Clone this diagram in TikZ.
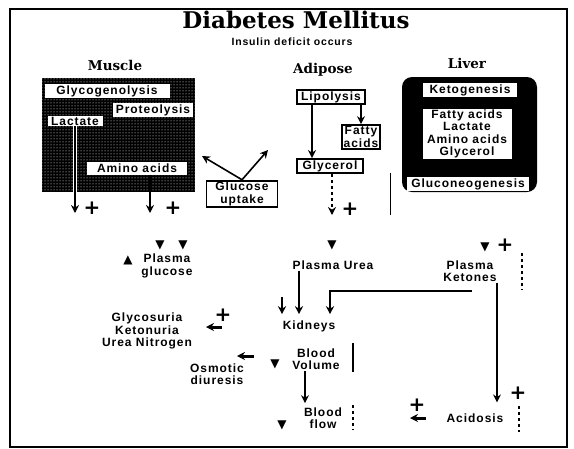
\documentclass[tikz,border=0pt]{standalone}
\usepackage{fontspec}
\newfontfamily\lab[LetterSpace=8]{Liberation Sans}
\newfontfamily\ttl{DejaVu Serif}
\newfontfamily\sym{DejaVu Sans}
\usetikzlibrary{shapes,arrows.meta,positioning,calc,patterns}

\tikzset{
  lbl/.style={font=\lab\bfseries\fontsize{12}{12.5}\selectfont, align=center, inner sep=1pt},
  inbox/.style={lbl, fill=white},
  tbox/.style={lbl, draw, line width=1.8pt, fill=white, inner sep=1.5pt},
  hdr/.style={font=\ttl\bfseries\fontsize{13.5}{13.5}\selectfont},
  plus/.style={font=\sym\bfseries\fontsize{20}{20}\selectfont, inner sep=0pt},
  dn/.style={font=\sym\fontsize{12}{12}\selectfont, inner sep=0pt},
  arr/.style={->, line width=1.6pt},
  blob/.style={->, line width=3pt},
}

\begin{document}
\begin{tikzpicture}[x=1pt, y=-1pt, >={Stealth[length=8pt,width=8pt]}]
\useasboundingbox (0,0) rectangle (574,448);
\draw[line width=1.8pt] (10,9) rectangle (567,447);

% title
\node[font=\ttl\bfseries\fontsize{23}{23}\selectfont] (title) at (296,20) {Diabetes Mellitus};
\node[lbl, font=\lab\bfseries\fontsize{10.5}{10.5}\selectfont] (subtitle) at (292,42) {Insulin deficit occurs};

% muscle
\node[hdr] (muscle) at (115,65) {Muscle};
\node[fill=black, minimum width=153pt, minimum height=114pt, inner sep=0pt] (musclebox) at (118.5,135) {};
\fill[pattern=dots, pattern color=white] (musclebox.south west) rectangle (musclebox.north east);
\node[inbox, minimum width=125pt, minimum height=12pt] (glycogen) at (107,91) {Glycogenolysis};
\node[inbox, minimum width=80pt, minimum height=10pt] (proteo) at (153,110) {Proteolysis};
\node[inbox, minimum width=55pt, minimum height=10pt] (lactate) at (75,121) {Lactate};
\node[inbox, minimum width=100pt, minimum height=13pt] (amino) at (137,168) {Amino acids};
\coordinate (lacend) at (75,213);
\coordinate (aminoend) at (150,213);
\draw[white, line width=3.5pt] (lactate.south) -- (lactate.south |- musclebox.south);
\draw[arr] (lactate.south) -- (lacend);
\draw[arr] (amino.south -| aminoend) -- (aminoend);
\node[plus] (plusa) at (92,208) {+};
\node[plus] (plusb) at (173,208) {+};

% glucose uptake
\node[tbox, minimum width=71pt, minimum height=25pt] (uptake) at (242,194) {Glucose\\uptake};
\coordinate (upl) at (202,156);
\coordinate (upr) at (268,150);
\draw[arr] (uptake.north) -- (upl);
\draw[arr] (uptake.north) -- (upr);

% adipose
\node[hdr] (adipose) at (323,70) {Adipose};
\node[tbox, minimum width=68pt] (lipo) at (331,97) {Lipolysis};
\node[tbox, minimum width=34pt] (fatty) at (361,137) {Fatty\\acids};
\node[tbox, minimum width=66pt] (glycerol) at (330,166) {Glycerol};
\draw[arr] ([xshift=-19pt]lipo.south) -- ([xshift=-18pt]glycerol.north);
\draw[arr] ([xshift=30pt]lipo.south) -- (fatty.north);
\coordinate (glyend) at (332,215);
\draw[arr, dashed] ([xshift=2pt]glycerol.south) -- (glyend);
\node[plus] (plusc) at (350,209) {+};

% liver
\node[hdr] (liver) at (467,63) {Liver};
\node[fill=black, rounded corners=10pt, minimum width=135pt, minimum height=115pt, inner sep=0pt] (liverbox) at (469.5,134.5) {};
\node[inbox, minimum width=94pt] (keto) at (470,90) {Ketogenesis};
\node[inbox, minimum width=89pt, minimum height=47pt] (subst) at (467,134) {Fatty acids\\Lactate\\Amino acids\\Glycerol};
\node[inbox, minimum width=122pt] (gluconeo) at (468,184) {Gluconeogenesis};
\draw[line width=0.8pt] (390,173) -- (390,215);

% plasma
\node[dn] (dga) at (160,245) {▼};
\node[dn] (dgb) at (183,245) {▼};
\node[dn] (ug) at (128,260) {▲};
\node[lbl] (pglucose) at (167,266) {Plasma\\glucose};
\node[dn] (du) at (332,245) {▼};
\node[lbl] (purea) at (333,265) {Plasma Urea};
\node[dn] (dk) at (485,247) {▼};
\node[plus] (plusk) at (505,245) {+};
\node[lbl] (pketones) at (470,271) {Plasma\\Ketones};
\draw[line width=1.2pt, dashed] (522,253) -- (522,290);

% kidneys
\node[lbl] (kidneys) at (309,326) {Kidneys};
\coordinate (kshort) at (282,297);
\draw[arr] ([xshift=-34pt]purea.south) -- ([xshift=-10pt,yshift=5pt]kidneys.north);
\draw[arr] (kshort) -- ([xshift=-27pt,yshift=5pt]kidneys.north);
\draw[arr] ([xshift=2pt,yshift=-8pt]pketones.south) -| ([xshift=21pt,yshift=5pt]kidneys.north);

\node[lbl] (glycosuria) at (147,331) {Glycosuria\\Ketonuria\\Urea Nitrogen};
\node[plus] (plusg) at (223,315) {+};
\coordinate (ga) at (222,327);
\coordinate (gb) at (206,327);
\draw[blob] (ga) -- (gb);

\node[lbl] (bloodvol) at (316,359) {Blood\\Volume};
\node[dn] (dv) at (275,364) {▼};
\draw[line width=1.2pt] (353,343) -- (353,372);
\node[lbl] (osmotic) at (217,374) {Osmotic\\diuresis};
\coordinate (oa) at (254,356);
\coordinate (ob) at (237,356);
\draw[blob] (oa) -- (ob);

\node[lbl] (bloodflow) at (323,418) {Blood\\flow};
\node[dn] (df) at (282,425) {▼};
\draw[line width=1.2pt, dashed] (353,405) -- (353,430);
\draw[arr] ([xshift=-11pt]bloodvol.south) -- ([xshift=-18pt,yshift=3pt]bloodflow.north);

% acidosis
\node[lbl] (acidosis) at (475,418) {Acidosis};
\draw[arr] ([xshift=27pt]pketones.south) -- ([xshift=22pt,yshift=10pt]acidosis.north);
\node[plus] (plusa2) at (518,393) {+};
\node[plus] (plusa3) at (417,405) {+};
\coordinate (aa) at (426,418);
\coordinate (ab) at (410,418);
\draw[blob] (aa) -- (ab);
\draw[line width=1.2pt, dashed] (519,406) -- (519,432);
\end{tikzpicture}
\end{document}
